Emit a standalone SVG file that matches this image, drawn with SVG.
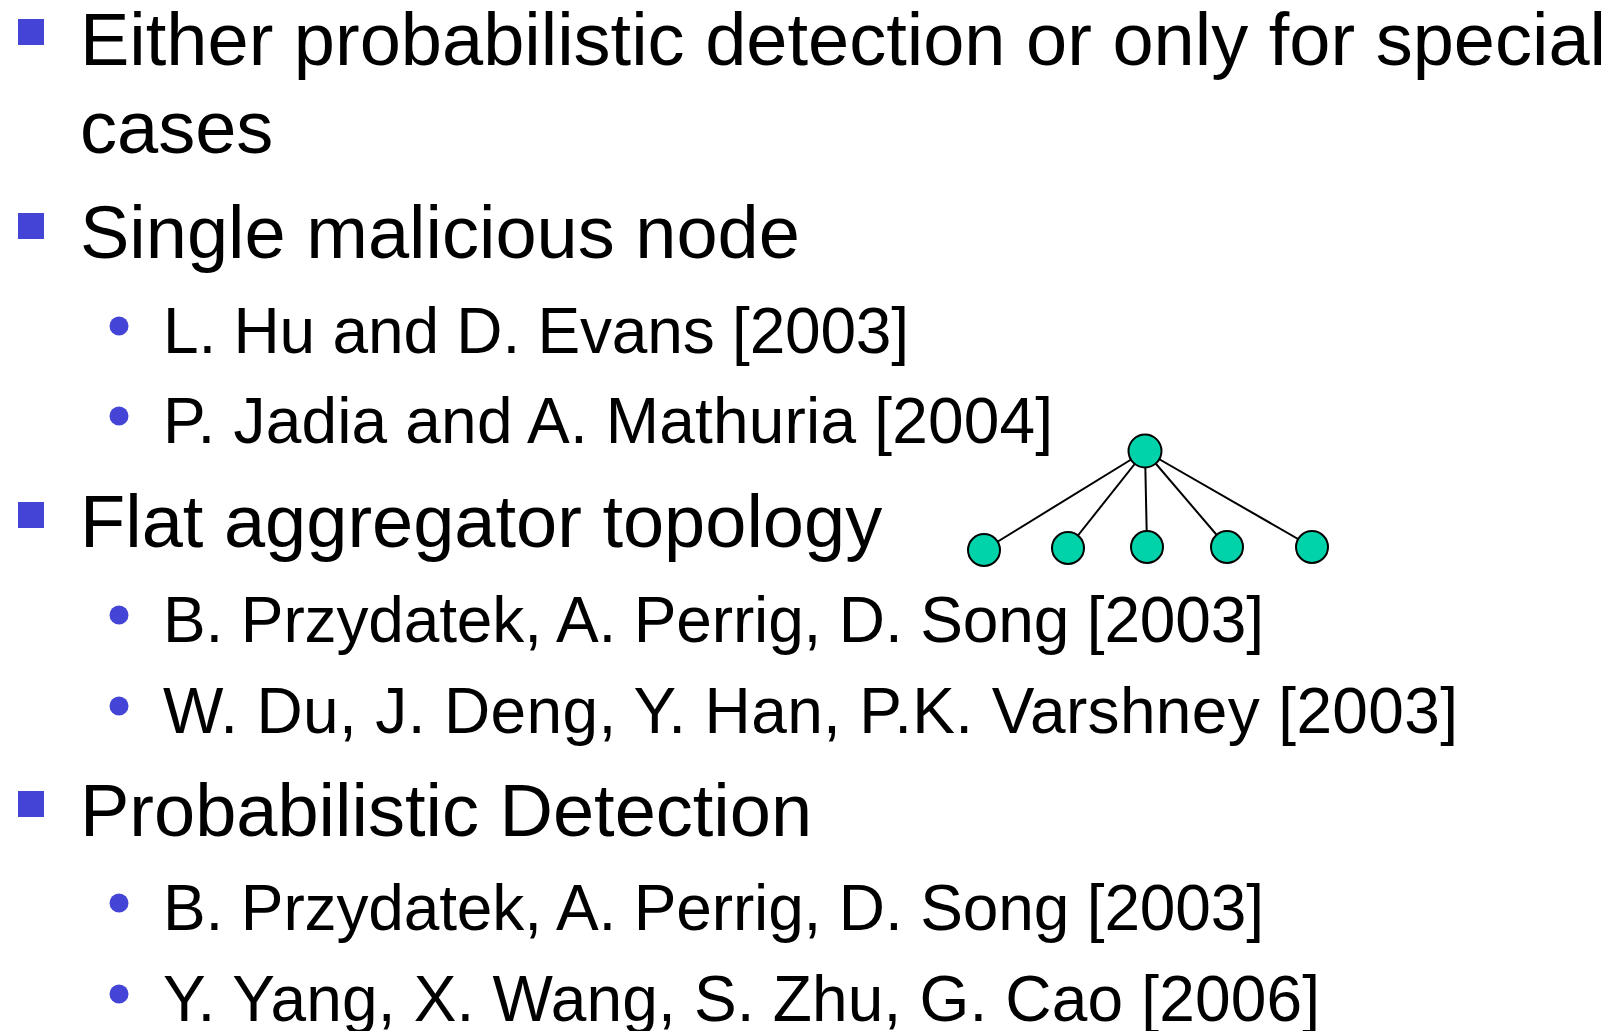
<svg xmlns="http://www.w3.org/2000/svg" width="1609" height="1031" viewBox="0 0 1609 1031">
<style>
.t1{font-family:"Liberation Sans",Arial,sans-serif;font-size:74px;fill:#000}
.t2{font-family:"Liberation Sans",Arial,sans-serif;font-size:64px;fill:#000}
.sq{fill:#4444D6}
.dot{fill:#4444D6}
.node{fill:#00D2AA;stroke:#000;stroke-width:2}
.edge{stroke:#000;stroke-width:2;fill:none}
</style>
<rect width="1609" height="1031" fill="#fff"/>
<g id="bullets">
<rect class="sq" x="18" y="19" width="26" height="26"/>
<rect class="sq" x="18" y="213" width="26" height="26"/>
<rect class="sq" x="18" y="502" width="26" height="26"/>
<rect class="sq" x="18" y="791" width="26" height="26"/>
<circle class="dot" cx="119" cy="326" r="9.5"/>
<circle class="dot" cx="119" cy="416" r="9.5"/>
<circle class="dot" cx="119" cy="615" r="9.5"/>
<circle class="dot" cx="119" cy="706" r="9.5"/>
<circle class="dot" cx="119" cy="903" r="9.5"/>
<circle class="dot" cx="119" cy="994" r="9.5"/>
</g>
<g id="text">
<text class="t1" x="80" y="65">Either probabilistic detection or only for special</text>
<text class="t1" x="80" y="153">cases</text>
<text class="t1" x="80" y="258">Single malicious node</text>
<text class="t2" x="163" y="353" textLength="746" lengthAdjust="spacing">L. Hu and D. Evans [2003]</text>
<text class="t2" x="163" y="443" textLength="890" lengthAdjust="spacing">P. Jadia and A. Mathuria [2004]</text>
<text class="t1" x="80" y="547">Flat aggregator topology</text>
<text class="t2" x="163" y="642" textLength="1101" lengthAdjust="spacing">B. Przydatek, A. Perrig, D. Song [2003]</text>
<text class="t2" x="163" y="733" textLength="1295" lengthAdjust="spacing">W. Du, J. Deng, Y. Han, P.K. Varshney [2003]</text>
<text class="t1" x="80" y="836">Probabilistic Detection</text>
<text class="t2" x="163" y="930" textLength="1101" lengthAdjust="spacing">B. Przydatek, A. Perrig, D. Song [2003]</text>
<text class="t2" x="163" y="1021" textLength="1157" lengthAdjust="spacing">Y. Yang, X. Wang, S. Zhu, G. Cao [2006]</text>
</g>
<g id="connectors">
<line class="edge" x1="1145" y1="451" x2="984" y2="550"/>
<line class="edge" x1="1145" y1="451" x2="1068" y2="548"/>
<line class="edge" x1="1145" y1="451" x2="1147" y2="547"/>
<line class="edge" x1="1145" y1="451" x2="1227" y2="547"/>
<line class="edge" x1="1145" y1="451" x2="1312" y2="547"/>
</g>
<g id="root"><circle class="node" cx="1145" cy="451" r="16.5"/></g>
<g id="leaf1"><circle class="node" cx="984" cy="550" r="16"/></g>
<g id="leaf2"><circle class="node" cx="1068" cy="548" r="16"/></g>
<g id="leaf3"><circle class="node" cx="1147" cy="547" r="16"/></g>
<g id="leaf4"><circle class="node" cx="1227" cy="547" r="16"/></g>
<g id="leaf5"><circle class="node" cx="1312" cy="547" r="16"/></g>
</svg>
